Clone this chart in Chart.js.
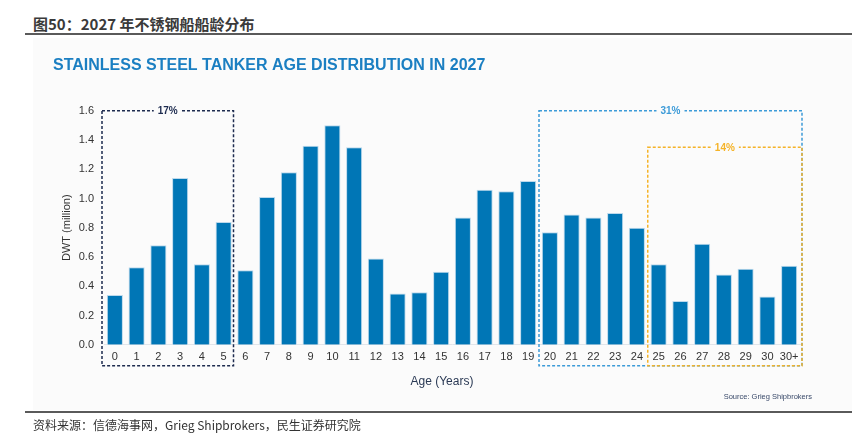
<!DOCTYPE html>
<html>
<head>
<meta charset="utf-8">
<script src="https://cdn.jsdelivr.net/npm/chart.js@4"></script>
<style>
  html, body { margin: 0; padding: 0; background: #ffffff; }
  #page { position: relative; width: 852px; height: 439px; overflow: hidden; }
  #panel { position: absolute; left: 33px; top: 38px; width: 819px; height: 372px; background: #fbfbfb; }
  #head { position: absolute; left: 33px; top: 13px; font: bold 15px "Noto Sans CJK SC", sans-serif; color: #3a3a3a; white-space: nowrap; }
  #headLine { position: absolute; left: 25px; top: 33px; width: 827px; height: 2px; background: #5a5a5a; }
  #footLine { position: absolute; left: 25px; top: 411px; width: 827px; height: 2px; background: #5a5a5a; }
  #foot { position: absolute; left: 33px; top: 416px; font: 12px "Noto Sans CJK SC", sans-serif; color: #333; white-space: nowrap; }
  #source { position: absolute; right: 40px; top: 392px; font: 7.5px "Liberation Sans", sans-serif; color: #3a4a6a; white-space: nowrap; }
  canvas { position: absolute; left: 0; top: 0; }
</style>
</head>
<body>
<div id="page">
  <div id="panel"></div>
  <div id="head">图50：2027 年不锈钢船船龄分布</div>
  <div id="headLine"></div>
  <canvas id="chart" width="852" height="439"></canvas>
  <div id="source">Source: Grieg Shipbrokers</div>
  <div id="footLine"></div>
  <div id="foot">资料来源：信德海事网，Grieg Shipbrokers，民生证券研究院</div>
</div>
<script>
// Edad de la flota (años) y DWT en millones
const ages = ["0", "1", "2", "3", "4", "5", "6", "7", "8", "9", "10", "11", "12", "13", "14", "15",
  "16", "17", "18", "19", "20", "21", "22", "23", "24", "25", "26", "27", "28", "29", "30", "30+"];
const dwt = [0.34, 0.53, 0.68, 1.14, 0.55, 0.84, 0.51, 1.01, 1.18, 1.36, 1.50, 1.35, 0.59, 0.35, 0.36, 0.50,
  0.87, 1.06, 1.05, 1.12, 0.77, 0.89, 0.87, 0.90, 0.80, 0.55, 0.30, 0.69, 0.48, 0.52, 0.33, 0.54];
const yTicks = [0, 0.2, 0.4, 0.6, 0.8, 1.0, 1.2, 1.4, 1.6];

// Grupos de edad marcados con recuadros punteados
const groupLabels = ["17%", "31%", "14%"];
const groupFirst = ["0", "20", "25"];
const groupLast = ["5", "30+", "30+"];
const groupTop = [1.6, 1.6, 1.35];
const groupColors = ["#1d2b4f", "#3d9bd8", "#f5b328"];

const PANEL_BG = "#fbfbfb";

const groupBoxes = {
  id: "groupBoxes",
  afterDatasetsDraw(chart) {
    const { ctx, chartArea, scales: { x, y } } = chart;
    const half = (x.getPixelForValue(1) - x.getPixelForValue(0)) / 2;
    const bottom = chartArea.bottom + 21;
    ctx.save();
    groupLabels.forEach((label, i) => {
      const a = ages.indexOf(groupFirst[i]);
      const b = ages.indexOf(groupLast[i]);
      let left = x.getPixelForValue(a) - half;
      let right = x.getPixelForValue(b) + half;
      if (a === 0) left -= 2;
      if (b === ages.length - 1) right += 2; else right -= 1;
      const top = y.getPixelForValue(groupTop[i]);

      ctx.strokeStyle = groupColors[i];
      ctx.lineWidth = 1.5;
      ctx.setLineDash([3, 2]);
      ctx.strokeRect(left, top, right - left, bottom - top);

      // etiqueta del porcentaje sobre la línea superior
      ctx.setLineDash([]);
      ctx.font = "bold 10px 'Liberation Sans', sans-serif";
      const w = ctx.measureText(label).width;
      const cx = (left + right) / 2;
      ctx.fillStyle = PANEL_BG;
      ctx.fillRect(cx - w / 2 - 4, top - 4, w + 8, 8);
      ctx.fillStyle = groupColors[i];
      ctx.textAlign = "center";
      ctx.textBaseline = "middle";
      ctx.fillText(label, cx, top + 0.5);
    });

    // título del eje x
    ctx.fillStyle = "#2b3a55";
    ctx.font = "12px 'Liberation Sans', sans-serif";
    ctx.textAlign = "center";
    ctx.textBaseline = "middle";
    ctx.fillText("Age (Years)", 442, chartArea.bottom + 37);
    ctx.restore();
  },
};

new Chart(document.getElementById("chart"), {
  type: "bar",
  data: {
    labels: ages,
    datasets: [
      {
        label: "DWT (million)",
        data: dwt,
        backgroundColor: "#0076b6",
        borderColor: "#bcd9ec",
        borderWidth: 1,
        barPercentage: 0.74,
        categoryPercentage: 1,
      },
    ],
  },
  options: {
    responsive: false,
    animation: false,
    devicePixelRatio: 1,
    layout: { padding: { top: 38, left: 53, right: 52, bottom: 69 } },
    plugins: {
      legend: { display: false },
      tooltip: { enabled: false },
      title: {
        display: true,
        text: "STAINLESS STEEL TANKER AGE DISTRIBUTION IN 2027",
        align: "start",
        color: "#1b7fc2",
        font: { family: "'Liberation Sans', sans-serif", size: 16, weight: "bold" },
        padding: { top: 17.5, bottom: 36 },
      },
    },
    scales: {
      x: {
        grid: { display: false, drawTicks: false },
        border: { display: true, color: "#e1e5ea", width: 1 },
        ticks: {
          autoSkip: false,
          maxRotation: 0,
          padding: 6,
          color: "#333",
          font: { family: "'Liberation Sans', sans-serif", size: 11 },
        },
      },
      y: {
        min: 0,
        max: 1.6,
        afterFit(scale) { scale.width = 51; },
        afterBuildTicks(scale) { scale.ticks = yTicks.map((v) => ({ value: v })); },
        grid: { display: false, drawTicks: false },
        border: { display: false },
        ticks: {
          padding: 10,
          color: "#333",
          font: { family: "'Liberation Sans', sans-serif", size: 11 },
          callback: (v) => Number(v).toFixed(1),
        },
        title: {
          display: true,
          text: "DWT (million)",
          color: "#333",
          font: { family: "'Liberation Sans', sans-serif", size: 11 },
          padding: { top: 7, bottom: 0 },
        },
      },
    },
  },
  plugins: [groupBoxes],
});
</script>
</body>
</html>
